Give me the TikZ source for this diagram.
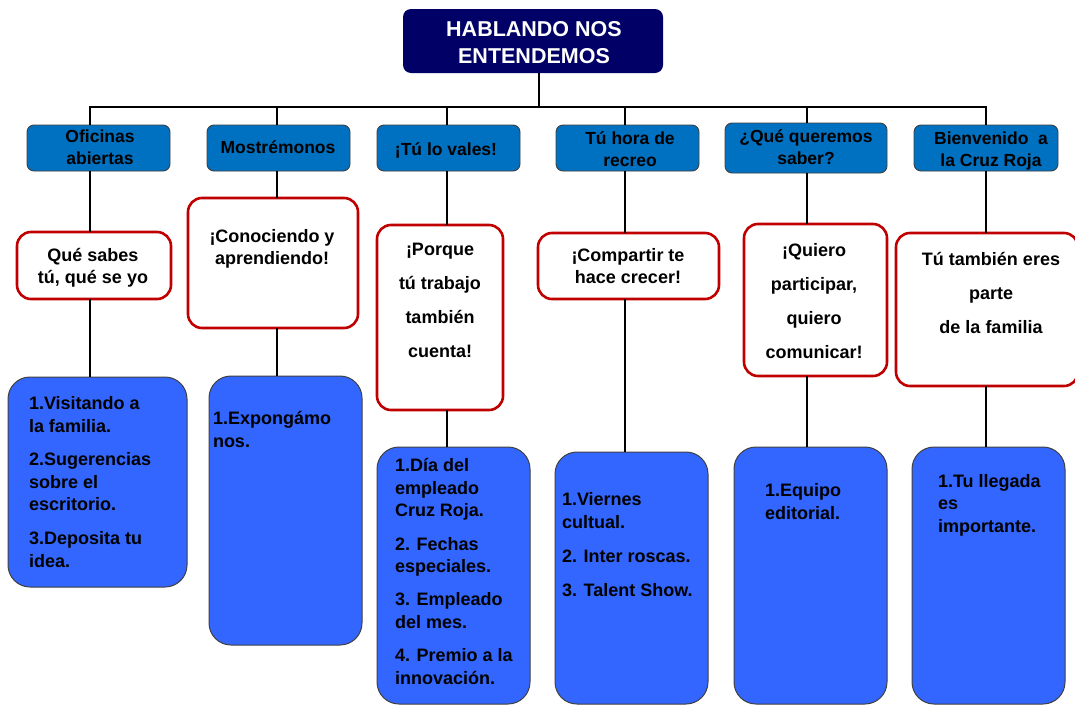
\documentclass[tikz,border=0pt]{standalone}
\usepackage{fontspec}
\setmainfont{Liberation Sans}
\definecolor{navy}{HTML}{000066}
\definecolor{headblue}{HTML}{0070C0}
\definecolor{boxred}{HTML}{C00000}
\definecolor{itemblue}{HTML}{3366FF}

% place a box node by its corners: style, name, x1, y1, x2, y2
\newcommand\placebox[6]{%
  \node[#1, minimum width={(#5-#3)*1pt}, minimum height={(#6-#4)*1pt}]
    (#2) at ({(#3+#5)/2},{(#4+#6)/2}) {};}

\begin{document}
\begin{tikzpicture}[x=1pt, y=-1pt,
  every node/.style={inner sep=0pt, outer sep=0pt},
  titlebox/.style={fill=navy, rounded corners=8pt},
  headbox/.style={fill=headblue, draw=black!75, line width=0.9pt, rounded corners=7pt},
  slogan/.style={fill=white, draw=boxred, line width=2.6pt, rounded corners=14pt},
  listbox/.style={fill=itemblue, draw=black!75, line width=1pt, rounded corners=22pt},
  link/.style={line width=2.7pt, black, line join=miter},
  titletext/.style={align=center, text=white, font=\fontsize{21.5}{27}\selectfont\bfseries, anchor=base},
  headtext/.style={align=center, font=\fontsize{17.5}{22}\selectfont\bfseries, anchor=base},
  slogantext/.style={align=center, font=\fontsize{18}{22}\selectfont\bfseries, anchor=base},
  slogantall/.style={align=center, font=\fontsize{18}{34}\selectfont\bfseries, anchor=base},
  listtext/.style={align=left, font=\fontsize{18}{22.4}\selectfont\bfseries, anchor=base west}]

\path[use as bounding box, fill=white] (0,0) rectangle (1075,707);

% boxes
\placebox{titlebox}{title}{403}{9}{663}{73}
\placebox{headbox}{h1}{27}{125}{170}{171}
\placebox{headbox}{h2}{207}{125}{350}{171}
\placebox{headbox}{h3}{377}{125}{520}{171}
\placebox{headbox}{h4}{556}{125}{699}{171}
\placebox{headbox}{h5}{725}{123}{887}{173}
\placebox{headbox}{h6}{914}{125}{1058}{171}
\placebox{slogan}{r1}{17}{232}{171}{299}
\placebox{slogan}{r2}{188}{198}{358}{328}
\placebox{slogan}{r3}{377}{225}{503}{410}
\placebox{slogan}{r4}{538}{233}{719}{299}
\placebox{slogan}{r5}{744}{224}{887}{376}
\placebox{slogan}{r6}{896}{233}{1078}{386}
\placebox{listbox}{b1}{8}{377}{187}{587}
\placebox{listbox}{b2}{209}{376}{362}{645}
\placebox{listbox}{b3}{377}{447}{530}{704}
\placebox{listbox}{b4}{555}{452}{708}{704}
\placebox{listbox}{b5}{734}{447}{887}{704}
\placebox{listbox}{b6}{912}{447}{1065}{704}

% branch points on the bus
\coordinate (top) at (539,107);
\coordinate (c1) at (90,107);
\coordinate (c2) at (277,107);
\coordinate (c3) at (447,107);
\coordinate (c4) at (625,107);
\coordinate (c5) at (807,107);
\coordinate (c6) at (986,107);

% connectors
\draw[link] (title.south -| top) -- (top);
\draw[link] (h1.north -| c1) -- (c1) -- (c6) -- (h6.north -| c6);
\foreach \i in {2,...,5}{\draw[link] (c\i) -- (h\i.north -| c\i);}
\foreach \i in {1,...,6}{
  \draw[link] (h\i.south -| c\i) -- (r\i.north -| c\i);
  \draw[link] (r\i.south -| c\i) -- (b\i.north -| c\i);
}

% texts (multi-line texts are anchored on the baseline of their last line)
\node[titletext] (ttitle) at (534,63) {HABLANDO NOS\\ENTENDEMOS};

\node[headtext] (th1) at (100,164) {Oficinas\\abiertas};
\node[headtext] (th2) at (278,153) {Mostrémonos};
\node[headtext] (th3) at (446,155) {¡Tú lo vales!};
\node[headtext] (th4) at (630,166) {Tú hora de\\recreo};
\node[headtext] (th5) at (806,164) {¿Qué queremos\\saber?};
\node[headtext] (th6) at (991,166) {Bienvenido~ a\\la Cruz Roja};

\node[slogantext] (tr1) at (93,283) {Qué sabes\\tú, qué se yo};
\node[slogantext] (tr2) at (272,264) {¡Conociendo y\\aprendiendo!};
\node[slogantall] (tr3) at (440,357) {¡Porque\\tú trabajo\\también\\cuenta!};
\node[slogantext] (tr4) at (628,283) {¡Compartir te\\hace crecer!};
\node[slogantall] (tr5) at (814,358) {¡Quiero\\participar,\\quiero\\comunicar!};
\node[slogantall] (tr6) at (991,333) {Tú también eres\\parte\\de la familia};

\node[listtext] (tb1) at (29,567) {1.Visitando a\\la familia.\\[11.5pt]2.Sugerencias\\sobre el\\escritorio.\\[11.5pt]3.Deposita tu\\idea.};
\node[listtext] (tb2) at (213,447) {1.Expongámo\\nos.};
\node[listtext] (tb3) at (395,684) {1.Día del\\empleado\\Cruz Roja.\\[11pt]2. Fechas\\especiales.\\[11pt]3. Empleado\\del mes.\\[11pt]4. Premio a la\\innovación.};
\node[listtext] (tb4) at (562,596) {1.Viernes\\cultual.\\[12pt]2. Inter roscas.\\[11pt]3. Talent Show.};
\node[listtext] (tb5) at (765,519) {1.Equipo\\editorial.};
\node[listtext] (tb6) at (938,532) {1.Tu llegada\\es\\importante.};
\end{tikzpicture}
\end{document}
